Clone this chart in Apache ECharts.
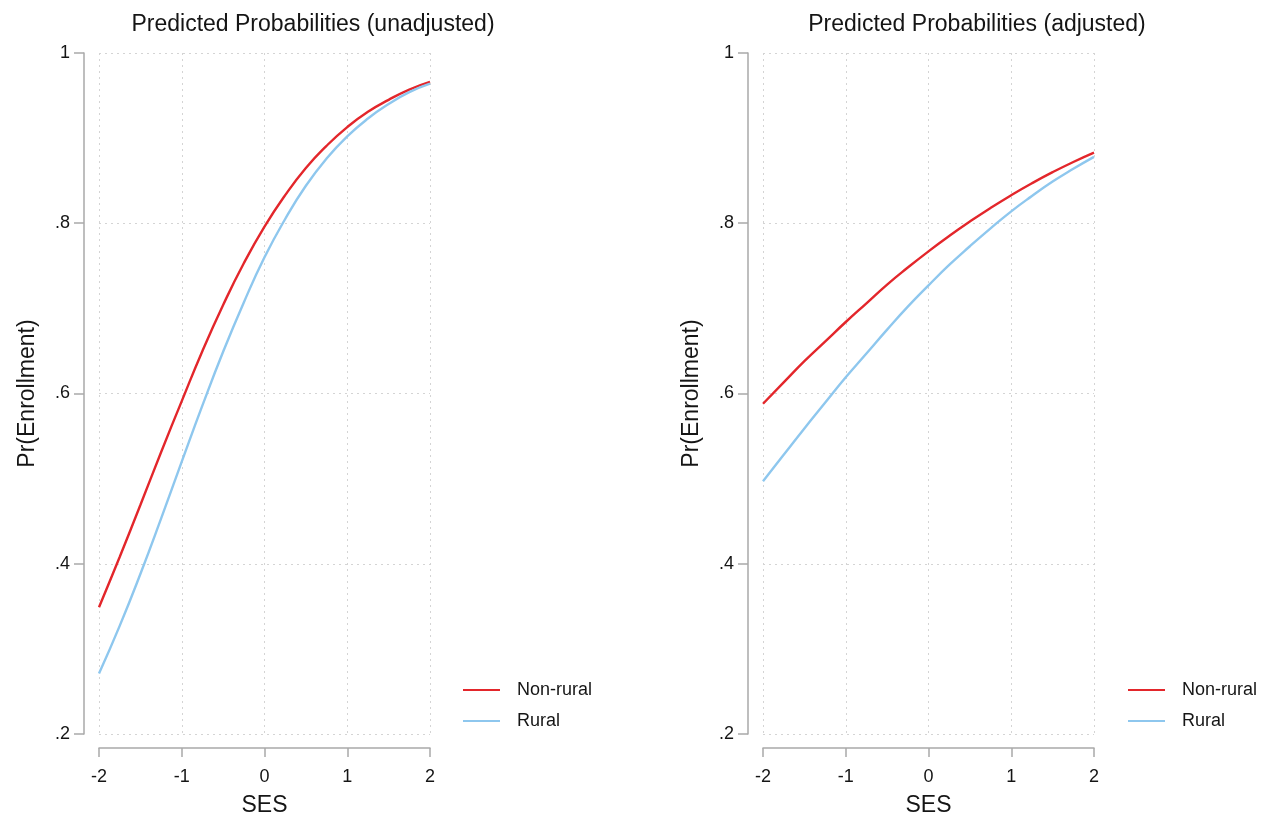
<!DOCTYPE html>
<html>
<head>
<meta charset="utf-8">
<script src="https://cdn.jsdelivr.net/npm/echarts@6/dist/echarts.min.js"></script>
<style>
html,body{margin:0;padding:0;background:#fff;}
#chart{width:1264px;height:819px;}
</style>
</head>
<body>
<div id="chart"></div>
<script>
// ---- data ----
const sesValues = [-2, -1.75, -1.5, -1.25, -1, -0.75, -0.5, -0.25, 0, 0.25, 0.5, 0.75, 1, 1.25, 1.5, 1.75, 2];
const unadjNonRural = [0.349, 0.408, 0.469, 0.531, 0.591, 0.650, 0.704, 0.753, 0.796, 0.833, 0.865, 0.891, 0.913, 0.931, 0.945, 0.957, 0.966];
const unadjRural    = [0.271, 0.327, 0.388, 0.453, 0.520, 0.586, 0.649, 0.707, 0.760, 0.805, 0.844, 0.876, 0.902, 0.923, 0.940, 0.954, 0.964];
const adjNonRural   = [0.588, 0.613, 0.638, 0.661, 0.684, 0.706, 0.728, 0.748, 0.767, 0.785, 0.802, 0.818, 0.833, 0.847, 0.860, 0.872, 0.883];
const adjRural      = [0.497, 0.528, 0.559, 0.589, 0.619, 0.647, 0.675, 0.702, 0.727, 0.751, 0.773, 0.794, 0.814, 0.832, 0.849, 0.864, 0.878];
const panelTitles = ['Predicted Probabilities (unadjusted)', 'Predicted Probabilities (adjusted)'];
const seriesNames = ['Non-rural', 'Rural'];
const xTitle = 'SES';
const yTitle = 'Pr(Enrollment)';

const RED = '#e3262b';
const BLUE = '#8ec7ee';
const TXT = '#151515';
const AXIS = '#a9a9a9';
const GRIDC = '#d4d4d4';
const FONT = 'Liberation Sans, Arial';

function pairs(ys){ return sesValues.map((x,i)=>[x, ys[i]]); }
function yFmt(v){ const r = Math.round(v*10)/10; return r === 1 ? '1' : String(r).replace(/^0/, ''); }

const grids = [
  {left: 99, top: 53, width: 331, height: 681, containLabel: false, outerBoundsMode: 'none'},
  {left: 763, top: 53, width: 331, height: 681, containLabel: false, outerBoundsMode: 'none'}
];

function xAxisCfg(gi){
  return {
    type: 'value', gridIndex: gi, min: -2, max: 2, interval: 1, offset: 14,
    name: xTitle, nameLocation: 'middle', nameGap: 46,
    nameTextStyle: {fontFamily: FONT, fontSize: 23, color: TXT},
    axisLine: {show: true, onZero: false, lineStyle: {color: AXIS, width: 1.5}},
    axisTick: {show: true, length: 9, lineStyle: {color: AXIS, width: 1.5}},
    axisLabel: {fontFamily: FONT, fontSize: 18, color: TXT, margin: 20},
    splitLine: {show: true, lineStyle: {color: GRIDC, type: [2, 4], width: 1}}
  };
}
function yAxisCfg(gi){
  return {
    type: 'value', gridIndex: gi, min: 0.2, max: 1, interval: 0.2, offset: 15,
    name: yTitle, nameLocation: 'middle', nameGap: 45, nameRotate: 90,
    nameTextStyle: {fontFamily: FONT, fontSize: 23, color: TXT},
    axisLine: {show: true, onZero: false, lineStyle: {color: AXIS, width: 1.5}},
    axisTick: {show: true, length: 10, lineStyle: {color: AXIS, width: 1.5}},
    axisLabel: {fontFamily: FONT, fontSize: 18, color: TXT, margin: 14, formatter: yFmt},
    splitLine: {show: true, lineStyle: {color: GRIDC, type: [2, 4], width: 1}}
  };
}
function lineSeries(name, data, color, gi){
  return {
    name: name, type: 'line', xAxisIndex: gi, yAxisIndex: gi, data: pairs(data),
    symbol: 'none', smooth: true, color: color,
    lineStyle: {color: color, width: 2.4}
  };
}
function legendCfg(left){
  return {
    data: seriesNames, orient: 'vertical', left: left, top: 681, padding: 0,
    icon: 'path://M0,0H37V2H0Z',
    itemWidth: 37, itemHeight: 2.2, itemGap: 13, selectedMode: false,
    textStyle: {fontFamily: FONT, fontSize: 18, color: TXT, lineHeight: 18, padding: [0,0,0,12]}
  };
}

const option = {
  animation: false,
  backgroundColor: '#fff',
  title: [
    {text: panelTitles[0], left: 308, top: 8, textAlign: 'center',
     textStyle: {fontFamily: FONT, fontSize: 23, fontWeight: 'normal', color: TXT}},
    {text: panelTitles[1], left: 972, top: 8, textAlign: 'center',
     textStyle: {fontFamily: FONT, fontSize: 23, fontWeight: 'normal', color: TXT}}
  ],
  grid: grids,
  xAxis: [xAxisCfg(0), xAxisCfg(1)],
  yAxis: [yAxisCfg(0), yAxisCfg(1)],
  legend: [legendCfg(463), legendCfg(1128)],
  series: [
    lineSeries(seriesNames[0], unadjNonRural, RED, 0),
    lineSeries(seriesNames[1], unadjRural, BLUE, 0),
    lineSeries(seriesNames[0], adjNonRural, RED, 1),
    lineSeries(seriesNames[1], adjRural, BLUE, 1)
  ]
};

const chart = echarts.init(document.getElementById('chart'), null, {renderer: 'canvas'});
chart.setOption(option);
</script>
</body>
</html>
